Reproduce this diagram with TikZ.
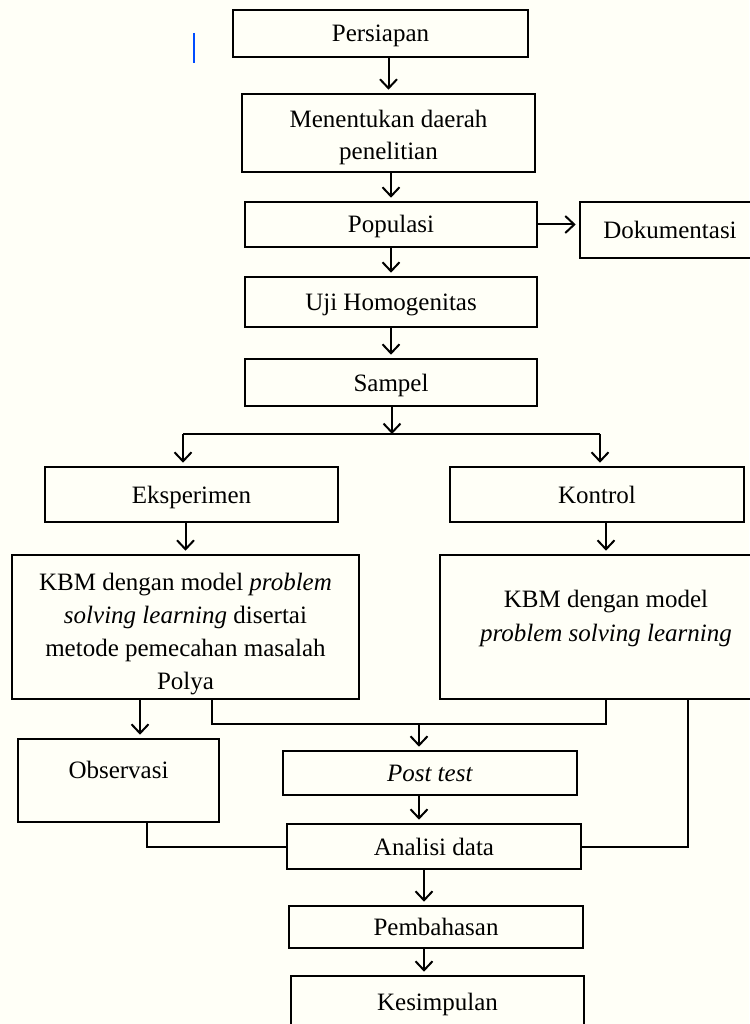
\documentclass[tikz,border=0pt]{standalone}
\usepackage{fontspec}
\setmainfont{Liberation Serif}
\usetikzlibrary{arrows.meta}

\begin{document}
\begin{tikzpicture}[x=1pt, y=-1pt,
    box/.style={draw, line width=2.6pt, inner sep=0pt, align=center,
      font=\fontsize{25}{32}\selectfont},
    single/.style={box, text height=22pt, text depth=5pt},
    arr/.style={line width=2pt, shorten >=3pt, -{Straight Barb[length=9pt,width=17pt]}},
    wire/.style={line width=2pt}]
  \useasboundingbox[fill=white!97!yellow] (0,0) rectangle (749,1024);
  \draw[blue!70!cyan, line width=2pt] (194,33) -- (194,63);

  % upper chain
  \node[single, minimum width=295, minimum height=47] (persiapan) at (380.5,33.5) {Persiapan};
  \node[box, minimum width=293, text height=66, text depth=12] (menentukan) at (388.5,133) {Menentukan daerah\\penelitian};
  \node[single, minimum width=292, minimum height=45] (populasi) at (391,224.5) {Populasi};
  \node[single, minimum width=180, minimum height=56] (dokumentasi) at (670,230) {Dokumentasi};
  \node[single, minimum width=292, minimum height=50] (uji) at (391,302) {Uji Homogenitas};
  \node[single, minimum width=292, minimum height=47] (sampel) at (391,382.5) {Sampel};

  % two groups
  \node[single, minimum width=293, minimum height=55] (eksperimen) at (191.5,494.5) {Eksperimen};
  \node[single, minimum width=294, minimum height=55] (kontrol) at (597,494.5) {Kontrol};
  \node[box, minimum width=347, text height=134, text depth=10,
    font=\fontsize{25}{33}\selectfont] (kbmA) at (185.5,627)
    {KBM dengan model \textit{problem}\\\textit{solving learning} disertai\\metode pemecahan masalah\\Polya};
  \node[box, minimum width=332, text height=86, text depth=58,
    font=\fontsize{25}{34}\selectfont] (kbmB) at (606,627)
    {KBM dengan model\\\textit{problem solving learning}};

  % lower chain
  \node[box, minimum width=201, text height=39, text depth=44] (observasi) at (118.5,780.5) {Observasi};
  \node[single, minimum width=294, minimum height=44] (posttest) at (430,773) {\textit{Post test}};
  \node[single, minimum width=294, minimum height=45] (analisi) at (434,846.5) {Analisi data};
  \node[single, minimum width=294, minimum height=42] (pembahasan) at (436,927) {Pembahasan};
  \node[box, minimum width=293, text height=34, text depth=26] (kesimpulan) at (437.5,1006) {Kesimpulan};

  \coordinate (split) at (392,434);
  \coordinate (splitL) at (183,434);
  \coordinate (splitR) at (600,434);
  \coordinate (obsIn) at ([xshift=21.5pt]observasi.north);
  \coordinate (joinL) at ([xshift=26.5pt]kbmA.south);
  \coordinate (merge) at (419,724);
  \coordinate (feedR) at ([xshift=82pt]kbmB.south);
  \coordinate (feedL) at ([xshift=28.5pt]observasi.south);
  \coordinate (outA) at ([xshift=-10pt]analisi.south);

  \draw[arr] (menentukan.north |- persiapan.south) -- (menentukan.north);
  \draw[arr] (populasi.north |- menentukan.south) -- (populasi.north);
  \draw[arr] (populasi.east) -- (dokumentasi.west |- populasi.east);
  \draw[arr] (populasi.south) -- (uji.north);
  \draw[arr] (uji.south) -- (sampel.north);
  \draw[arr, shorten >=0pt] (split |- sampel.south) -- (split);
  \draw[wire] (splitL) -- (splitR);
  \draw[arr] (splitL) -- (splitL |- eksperimen.north);
  \draw[arr] (splitR) -- (splitR |- kontrol.north);
  \draw[arr] (kbmA.north |- eksperimen.south) -- (kbmA.north);
  \draw[arr] (kbmB.north |- kontrol.south) -- (kbmB.north);
  \draw[arr] (obsIn |- kbmA.south) -- (obsIn);
  \draw[wire] (joinL) |- (merge) -| (kbmB.south);
  \draw[arr] (merge) -- (merge |- posttest.north);
  \draw[arr] (merge |- posttest.south) -- (merge |- analisi.north);
  \draw[wire] (feedR) |- (analisi.east);
  \draw[wire] (feedL) |- (analisi.west);
  \draw[arr] (outA) -- (outA |- pembahasan.north);
  \draw[arr] (outA |- pembahasan.south) -- (outA |- kesimpulan.north);
\end{tikzpicture}
\end{document}
